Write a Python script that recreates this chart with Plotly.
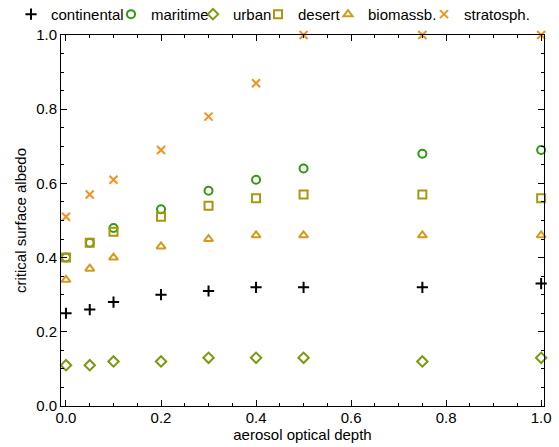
import plotly.graph_objects as go

aod = [0.0, 0.05, 0.1, 0.2, 0.3, 0.4, 0.5, 0.75, 1.0]
continental = [0.25, 0.26, 0.28, 0.30, 0.31, 0.32, 0.32, 0.32, 0.33]
maritime = [0.40, 0.44, 0.48, 0.53, 0.58, 0.61, 0.64, 0.68, 0.69]
urban = [0.11, 0.11, 0.12, 0.12, 0.13, 0.13, 0.13, 0.12, 0.13]
desert = [0.40, 0.44, 0.47, 0.51, 0.54, 0.56, 0.57, 0.57, 0.56]
biomassb = [0.34, 0.37, 0.40, 0.43, 0.45, 0.46, 0.46, 0.46, 0.46]
stratosph = [0.51, 0.57, 0.61, 0.69, 0.78, 0.87, 1.0, 1.0, 1.0]

series = [
    ("continental", continental, "cross-thin", "#000000", 55),
    ("maritime", maritime, "circle-open", "#2e9a12", 37),
    ("urban", urban, "diamond-open", "#7a9a10", 20),
    ("desert", desert, "square-open", "#a8980e", 25),
    ("biomassb.", biomassb, "triangle-up-open", "#d49a1c", 51),
    ("stratosph.", stratosph, "x-thin-open", "#f5921e", 60),
]

fig = go.Figure()
for name, ys, sym, col, lw in series:
    fig.add_trace(go.Scatter(
        x=aod, y=ys, mode="markers", name=name, cliponaxis=False,
        legendwidth=lw,
        marker=dict(symbol=sym, size=8, color=col, line=dict(width=2, color=col)),
    ))

axis_common = dict(
    showline=True, linecolor="#000000", linewidth=1, mirror="allticks",
    ticks="inside", ticklen=6, tickwidth=1, tickcolor="#000000",
    showgrid=False, zeroline=False,
    tickfont=dict(size=15, color="#000000", family="Liberation Sans"),
)

fig.update_xaxes(
    range=[-0.0105, 1.006], tick0=0, dtick=0.2, tickformat=".1f",
    ticklabelstandoff=-2,
    minor=dict(ticks="inside", ticklen=3, tickcolor="#000000", dtick=0.05, tick0=0),
    title=dict(text="aerosol optical depth", font=dict(size=15, family="Liberation Sans", color="#000000"), standoff=0),
    **axis_common,
)
fig.update_yaxes(
    range=[0, 1.0], tick0=0, dtick=0.2, tickformat=".1f",
    minor=dict(ticks="inside", ticklen=3, tickcolor="#000000", dtick=0.05, tick0=0),
    title=dict(text="critical surface albedo", font=dict(size=15, family="Liberation Sans", color="#000000"), standoff=5),
    **axis_common,
)

fig.update_layout(
    width=559, height=447,
    margin=dict(l=61, r=15, t=35, b=41, autoexpand=False),
    paper_bgcolor="white", plot_bgcolor="white",
    font=dict(family="Liberation Sans", size=15, color="#000000"),
    showlegend=True,
    legend=dict(
        orientation="h", xref="paper", yref="paper",
        x=-0.1035, y=1.1, xanchor="left", yanchor="top",
        font=dict(size=15, family="Liberation Sans", color="#000000"),
        itemwidth=30, tracegroupgap=0, bgcolor="rgba(0,0,0,0)",
    ),
)

fig.write_html("out.html")
